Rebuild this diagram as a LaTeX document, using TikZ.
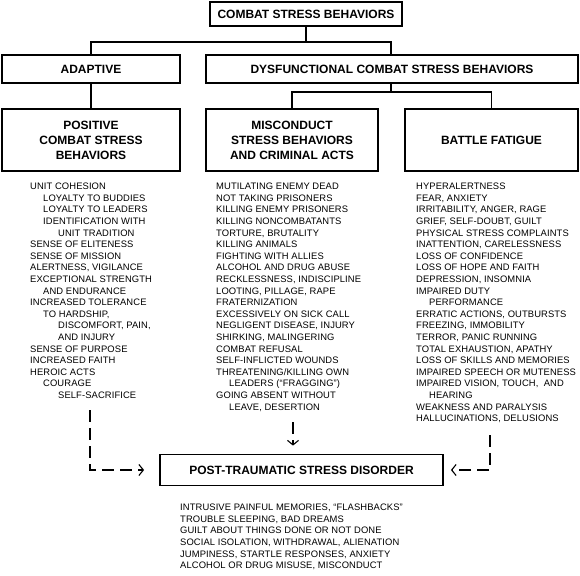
\documentclass[tikz,border=0pt]{standalone}
\usepackage{fontspec}
\setmainfont{Liberation Sans}
\usetikzlibrary{arrows.meta}

\newcommand\headfont{\fontsize{12}{15}\selectfont\bfseries}
\newcommand\listfont{\fontsize{9.4}{11.6}\selectfont\addfontfeature{LetterSpace=1}}
\newcommand\ia{\hspace*{13pt}}
\newcommand\ib{\hspace*{28pt}}

\begin{document}
\begin{tikzpicture}[x=1pt,y=-1pt,
  hbox/.style={draw,line width=1.8pt,font=\headfont,align=center,inner sep=0pt},
  items/.style={font=\listfont,align=left,anchor=north west,inner sep=0pt},
  link/.style={line width=1.8pt},
  dasharrow/.style={line width=1.5pt,dash pattern=on 12pt off 6pt,
    -{Straight Barb[length=4.5pt,width=11pt,line width=1.1pt]}}]
   \useasboundingbox (0,0) rectangle (580,575);

   \node[hbox,minimum width=192,minimum height=24] (a) at (306,14) {COMBAT STRESS BEHAVIORS};
   \node[hbox,minimum width=178,minimum height=28] (b) at (91,69) {ADAPTIVE};
   \node[hbox,minimum width=372,minimum height=28] (c) at (392,69) {DYSFUNCTIONAL COMBAT STRESS BEHAVIORS};
   \node[hbox,minimum width=178,minimum height=62] (d) at (91,140) {POSITIVE\\COMBAT STRESS\\BEHAVIORS};
   \node[hbox,minimum width=172,minimum height=62] (e) at (292,140) {MISCONDUCT\\STRESS BEHAVIORS\\AND CRIMINAL ACTS};
   \node[hbox,minimum width=173,minimum height=62] (f) at (491.5,140) {BATTLE FATIGUE};
   \node[hbox,minimum width=283,minimum height=31] (p) at (301.5,470) {POST-TRAUMATIC STRESS DISORDER};

   \coordinate (bl) at (91,42);
   \coordinate (br) at (391,42);
   \coordinate (bd) at (391,92);
   \draw[link] (a.south) -- (a.south |- bl);
   \draw[link] (b.north) -- (bl) -- (br) -- (c.north -| br);
   \draw[link] (b.south) -- (d.north);
   \draw[link] (c.south -| bd) -- (bd);
   \draw[link] (e.north) |- (bd) -| (f.north);

   \node[items] (dl) at (30,183) {UNIT COHESION\\
     \ia LOYALTY TO BUDDIES\\
     \ia LOYALTY TO LEADERS\\
     \ia IDENTIFICATION WITH\\
     \ib UNIT TRADITION\\
     SENSE OF ELITENESS\\
     SENSE OF MISSION\\
     ALERTNESS, VIGILANCE\\
     EXCEPTIONAL STRENGTH\\
     \ia AND ENDURANCE\\
     INCREASED TOLERANCE\\
     \ia TO HARDSHIP,\\
     \ib DISCOMFORT, PAIN,\\
     \ib AND INJURY\\
     SENSE OF PURPOSE\\
     INCREASED FAITH\\
     HEROIC ACTS\\
     \ia COURAGE\\
     \ib SELF-SACRIFICE};

   \node[items] (el) at (216,183) {MUTILATING ENEMY DEAD\\
     NOT TAKING PRISONERS\\
     KILLING ENEMY PRISONERS\\
     KILLING NONCOMBATANTS\\
     TORTURE, BRUTALITY\\
     KILLING ANIMALS\\
     FIGHTING WITH ALLIES\\
     ALCOHOL AND DRUG ABUSE\\
     RECKLESSNESS, INDISCIPLINE\\
     LOOTING, PILLAGE, RAPE\\
     FRATERNIZATION\\
     EXCESSIVELY ON SICK CALL\\
     NEGLIGENT DISEASE, INJURY\\
     SHIRKING, MALINGERING\\
     COMBAT REFUSAL\\
     SELF-INFLICTED WOUNDS\\
     THREATENING/KILLING OWN\\
     \ia LEADERS (“FRAGGING”)\\
     GOING ABSENT WITHOUT\\
     \ia LEAVE, DESERTION};

   \node[items] (fl) at (416,183) {HYPERALERTNESS\\
     FEAR, ANXIETY\\
     IRRITABILITY, ANGER, RAGE\\
     GRIEF, SELF-DOUBT, GUILT\\
     PHYSICAL STRESS COMPLAINTS\\
     INATTENTION, CARELESSNESS\\
     LOSS OF CONFIDENCE\\
     LOSS OF HOPE AND FAITH\\
     DEPRESSION, INSOMNIA\\
     IMPAIRED DUTY\\
     \ia PERFORMANCE\\
     ERRATIC ACTIONS, OUTBURSTS\\
     FREEZING, IMMOBILITY\\
     TERROR, PANIC RUNNING\\
     TOTAL EXHAUSTION, APATHY\\
     LOSS OF SKILLS AND MEMORIES\\
     IMPAIRED SPEECH OR MUTENESS\\
     IMPAIRED VISION, TOUCH,\ \ AND\\
     \ia HEARING\\
     WEAKNESS AND PARALYSIS\\
     HALLUCINATIONS, DELUSIONS};

   \node[items] (pl) at (180,504) {INTRUSIVE PAINFUL MEMORIES, “FLASHBACKS”\\
     TROUBLE SLEEPING, BAD DREAMS\\
     GUILT ABOUT THINGS DONE OR NOT DONE\\
     SOCIAL ISOLATION, WITHDRAWAL, ALIENATION\\
     JUMPINESS, STARTLE RESPONSES, ANXIETY\\
     ALCOHOL OR DRUG MISUSE, MISCONDUCT};

   \coordinate (ds) at (90,410);
   \coordinate (es) at (293,422);
   \coordinate (fs) at (490,435);
   \draw[dasharrow,shorten >=15pt] (ds) |- (p.west);
   \draw[dasharrow,shorten >=8pt] (es) -- (es |- p.north);
   \draw[dasharrow,shorten >=7pt] (fs) |- (p.east);
\end{tikzpicture}
\end{document}
